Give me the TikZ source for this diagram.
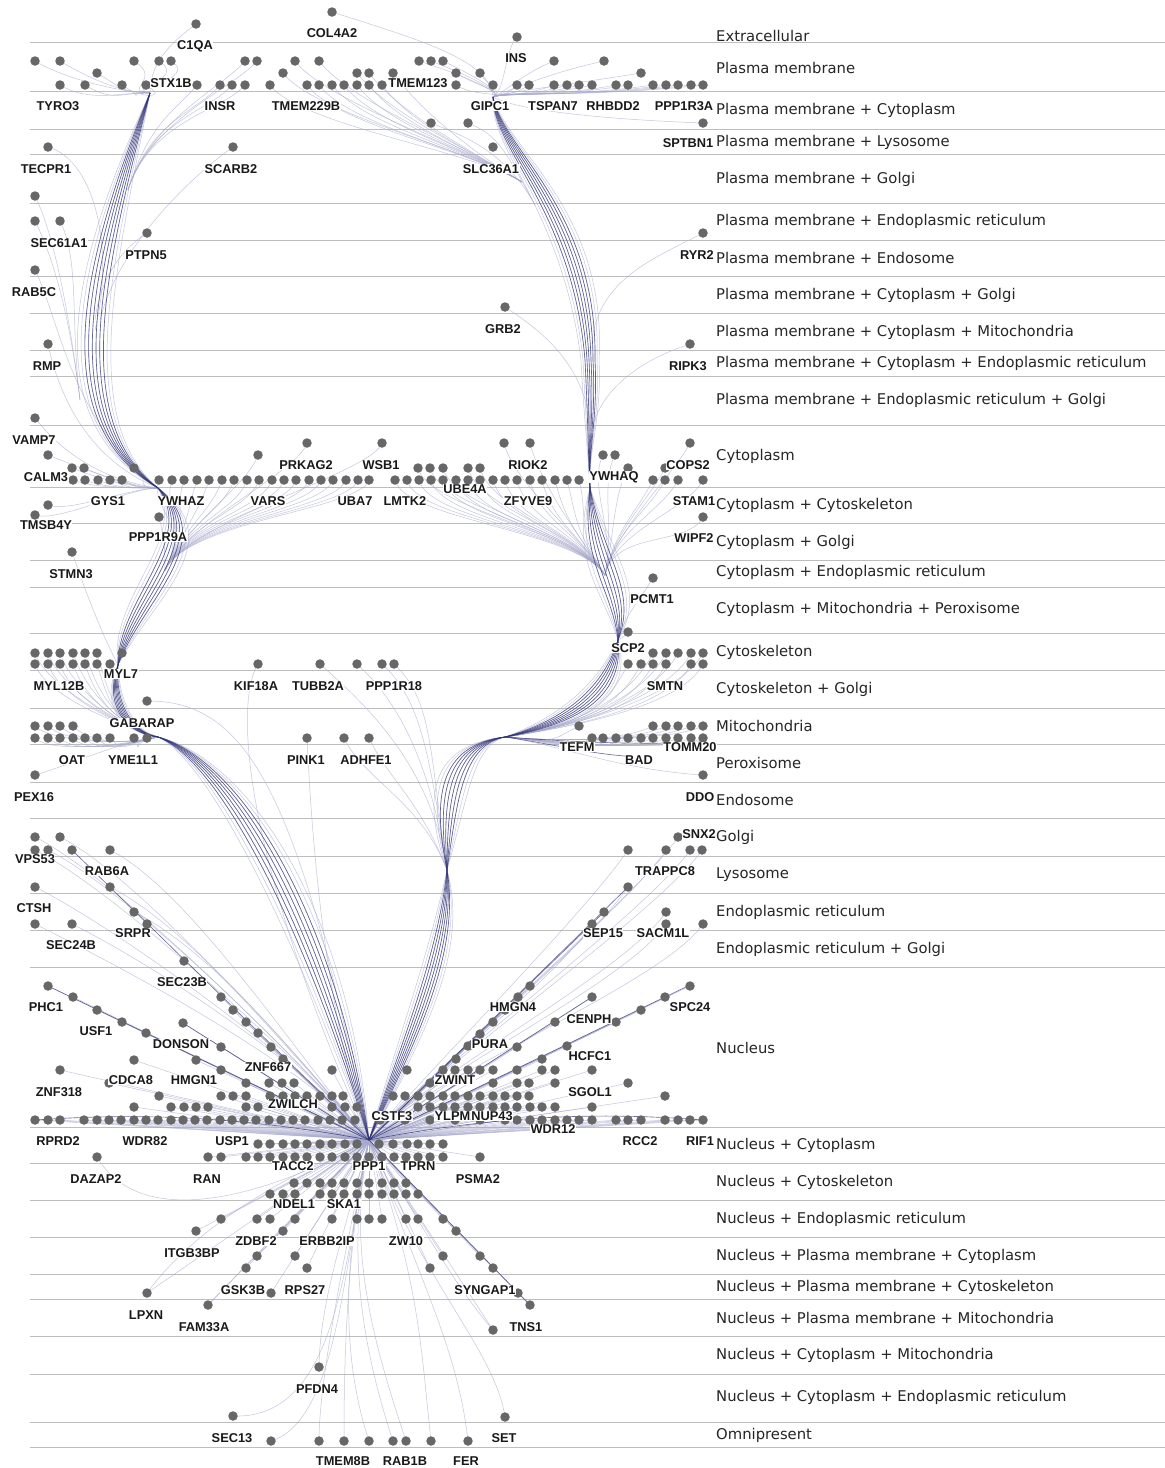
\documentclass[tikz,border=0pt]{standalone}
\usepackage{fontspec}
\setmainfont{DejaVu Sans}
\newfontfamily\genefont{Liberation Sans}
\definecolor{dotc}{HTML}{676767}
\definecolor{gridc}{HTML}{BDBDBD}
\definecolor{dkc}{HTML}{2F3272}
\definecolor{ltc}{HTML}{A6A8CC}
\tikzset{
 dot/.style={circle,fill=dotc,draw=none,minimum size=9.5pt,inner sep=0pt},
 gl/.style={font={\genefont\bfseries\fontsize{12.8}{12.8}\selectfont}, fill=white, inner sep=0.5pt, text=black!90},
 cat/.style={font={\fontsize{14.8}{16}\selectfont}, anchor=west, inner sep=0pt, text=black!85},
 gridline/.style={draw=gridc, line width=0.9pt},
 dk/.style={draw=dkc, line width=0.65pt, opacity=0.7},
 lt/.style={draw=ltc, line width=0.5pt, opacity=0.65},
}
\def\toprows{12/{332}, 24/{196}, 37/{517},
61/{35,60,134,159,171,245,257,295,319,419,431,443,554,604},
73/{97,283,357,369,393,456,480,641},
85/{60,85,122,146,197,220,232,245,270,307,319,332,344,357,369,382,456,493,517,529,554,567,579,592,616,628,653,666,678,691,703},
123/{431,468,703}, 147/{48,233,493}, 196/{35}, 221/{35,60}, 233/{147,703}, 270/{35}, 307/{505}, 344/{48,690}, 418/{35},
443/{307,382,504,530,690}, 455/{48,258,603,615},
468/{72,84,134,418,430,443,468,480,628,665},
480/{73,85,98,110,122,159,172,184,197,209,222,234,247,259,272,284,296,309,321,333,346,358,369,395,407,419,431,443,456,468,480,493,505,517,530,542,555,567,579,653,665,678,703},
505/{48}, 515/{35}, 517/{159,703}, 552/{72}, 578/{653}, 632/{628},
653/{35,48,60,73,85,97,122,653,666,678,691,703},
664/{35,48,60,73,85,97,110,258,320,357,382,394,628,641,653,666,691,703},
701/{147},
726/{35,48,60,73,579,653,666,678,691,703},
738/{35,48,60,73,85,97,110,134,147,307,344,369,592,603,616,628,641,653,666,678,691,703},
775/{35,703}, 837/{35,60,678}, 850/{35,48,72,110,628,666,690,702}, 887/{35,110,628},
912/{134,604,666}, 924/{35,72,147,592,666,703}, 961/{184},
1367/{319}, 1416/{233}, 1417/{505}, 1441/{271,319,344,369,393,406,431,468}}
\def\nucrows{986/{48,530,690}, 997/{73,221,518,592,665}, 1010/{97,233,505,641},
1022/{122,246,493,555,616}, 1023/{183}, 1033/{146,258}, 1034/{480}, 1046/{468,567},
1047/{221,271,517}, 1059/{283,456,542}, 1060/{134,196},
1070/{60,221,332,407,443,455,468,480,493,517,542,555,592},
1083/{109,246,269,282,294,430,493,517,529,555,628},
1096/{159,221,233,246,270,283,295,307,320,332,343,393,405,418,430,443,455,468,480,493,505,517,529,665},
1107/{134,171,184,196,208,246,258,332,345,357,418,430,443,455,468,480,493,505,517,530,542,555,592},
1120/{35,48,60,84,97,109,121,134,146,158,171,183,195,207,220,232,244,256,269,281,293,305,318,330,342,355,380,405,430,455,480,505,517,530,542,555,567,579,592,616,628,641,665,678,690,703},
1144/{258,270,283,295,307,320,332,345,357,379,393,407,418,430,443},
1157/{208,221,246,258,270,283,295,307,320,332,345,357,369,382,394,406,418,430,443,480},
1183/{294,307,320,332,344,357,369,382,394,406},
1194/{270,283,295,320,332,344,357,369,382,394,406,418},
1219/{221,257,270,295,332,357,369,382,406,418,443},
1231/{196,283,456}, 1256/{257,295,443,480}, 1268/{246,307,430,493},
1293/{147,271,518}, 1305/{208,530}, 1330/{493}}
\begin{document}
\begin{tikzpicture}[x=1pt,y=-1pt]
\useasboundingbox (0,0) rectangle (1165,1468);
\fill[white] (0,0) rectangle (1165,1468);
% grid lines
\foreach \y in {42,91,129,154,203,240,276,313,350,376,425,487,523,560,587,633,670,708,744,782,818,856,893,930,967,1127,1163,1200,1237,1274,1299,1336,1374,1422,1447}
  \draw[gridline] (30,\y) -- (1165,\y);
% category labels
\foreach \y/\t in {36/Extracellular, 68/Plasma membrane, 110/Plasma membrane + Cytoplasm,
 142/Plasma membrane + Lysosome, 179/Plasma membrane + Golgi, 221/Plasma membrane + Endoplasmic reticulum,
 258/Plasma membrane + Endosome, 295/Plasma membrane + Cytoplasm + Golgi,
 332/Plasma membrane + Cytoplasm + Mitochondria, 363/Plasma membrane + Cytoplasm + Endoplasmic reticulum,
 400/Plasma membrane + Endoplasmic reticulum + Golgi, 456/Cytoplasm, 505/Cytoplasm + Cytoskeleton,
 542/Cytoplasm + Golgi, 572/Cytoplasm + Endoplasmic reticulum, 609/Cytoplasm + Mitochondria + Peroxisome,
 652/Cytoskeleton, 689/Cytoskeleton + Golgi, 726/Mitochondria, 763/Peroxisome, 800/Endosome,
 837/Golgi, 875/Lysosome, 912/Endoplasmic reticulum, 949/Endoplasmic reticulum + Golgi,
 1048/Nucleus, 1145/Nucleus + Cytoplasm, 1182/Nucleus + Cytoskeleton, 1219/Nucleus + Endoplasmic reticulum,
 1256/Nucleus + Plasma membrane + Cytoplasm, 1287/Nucleus + Plasma membrane + Cytoskeleton,
 1318/Nucleus + Plasma membrane + Mitochondria, 1355/Nucleus + Cytoplasm + Mitochondria,
 1397/Nucleus + Cytoplasm + Endoplasmic reticulum, 1435/Omnipresent}
  \node[cat] (cat\y) at (716,\y) {\t};
% hubs
\coordinate (C) at (369,1140);
\coordinate (SX) at (150,93);
\coordinate (GP) at (493,97);
\coordinate (YZ) at (158,488);
\coordinate (MY) at (118,665);
\coordinate (GA) at (158,737);
\coordinate (YQ) at (590,488);
\coordinate (SC) at (618,640);
\coordinate (TX) at (505,737);
\coordinate (LO) at (447,870);
\coordinate (LF) at (165,570);
\coordinate (RF) at (605,575);
% ---------- light feeders ----------
\foreach \x/\y in {35/61,60/61,134/61,159/61,171/61,97/73,60/85,85/85,122/85,146/85}
  \draw[lt] (\x,\y) .. controls ({\x+30},{\y+18}) and (120,92) .. (SX);
\draw[lt] (196,24) .. controls (175,40) and (150,60) .. (SX);
\foreach \x/\y in {197/85,220/85,232/85,245/85,245/61,257/61}
  \draw[lt] (\x,\y) .. controls ({\x-20},{\y+25}) and (150,120) .. (128,190);
\foreach \x/\y in {270/85,307/85,319/85,332/85,344/85,357/85,369/85,382/85,283/73,357/73,369/73,393/73,295/61,319/61}
  \draw[lt] (\x,\y) .. controls ({\x+30},{\y+40}) and (470,150) .. (522,182);
\foreach \x/\y in {419/61,431/61,443/61,456/73,480/73,456/85,517/85,529/85,554/85,567/85,579/85,592/85,616/85,628/85,653/85,666/85,678/85,691/85,703/85,554/61,604/61,641/73,517/37}
  \draw[lt] (\x,\y) .. controls ({\x-(\x-493)*0.5},{\y+12}) and (505,92) .. (GP);
\draw[lt] (332,12) .. controls (420,40) and (490,60) .. (GP);
\foreach \x in {431,468}
  \draw[lt] (\x,123) .. controls ({\x+30},135) and (505,150) .. (535,205);
\draw[lt] (703,123) .. controls (620,120) and (520,112) .. (GP);
\draw[lt] (48,147) .. controls (95,160) and (115,250) .. (95,330);
\draw[lt] (233,147) .. controls (200,170) and (120,240) .. (100,320);
\foreach \x/\y in {35/196,35/221,60/221}
  \draw[lt] (\x,\y) .. controls ({\x+20},{\y+40}) and (70,320) .. (80,400);
\draw[lt] (147,233) .. controls (120,250) and (100,280) .. (95,320);
\draw[lt] (35,270) .. controls (60,320) and (70,420) .. (YZ);
\draw[lt] (48,344) .. controls (60,400) and (90,460) .. (YZ);
\draw[lt] (35,418) .. controls (60,450) and (100,480) .. (YZ);
\foreach \x/\y in {48/455,72/468,84/468,134/468,73/480,85/480,98/480,110/480,122/480,35/515,48/505}
  \draw[lt] (\x,\y) .. controls ({\x+20},{\y+8}) and (130,488) .. (YZ);
\draw[lt] (159,517) .. controls (165,540) and (165,555) .. (LF);
\foreach \x/\y in {159/480,172/480,184/480,197/480,209/480,222/480,234/480,247/480,259/480,272/480,284/480,296/480,309/480,321/480,333/480,346/480,358/480,369/480,258/455,307/443,382/443}
  \draw[lt] (\x,\y) .. controls ({\x-10},{\y+30}) and (190,520) .. (LF);
\foreach \x/\y in {395/480,407/480,419/480,431/480,443/480,456/480,468/480,480/480,493/480,505/480,517/480,530/480,542/480,555/480,567/480,579/480,418/468,430/468,443/468,468/468,480/468,504/443,530/443}
  \draw[lt] (\x,\y) .. controls ({\x+10},{\y+40}) and (575,530) .. (RF);
\foreach \x/\y in {603/455,615/455,628/468,665/468,653/480,665/480,678/480,703/480,690/443,703/517}
  \draw[lt] (\x,\y) .. controls ({\x-15},{\y+30}) and (615,530) .. (RF);
\draw[lt] (703,233) .. controls (650,260) and (600,280) .. (592,340);
\draw[lt] (505,307) .. controls (540,330) and (580,360) .. (590,420);
\draw[lt] (690,344) .. controls (640,360) and (600,390) .. (592,430);
\draw[lt] (653,578) .. controls (640,600) and (625,615) .. (SC);
\draw[lt] (628,632) .. controls (625,636) .. (SC);
\foreach \x/\y in {628/664,641/664,653/664,666/664,691/664,703/664,653/653,666/653,678/653,691/653,703/653}
  \draw[lt] (\x,\y) .. controls ({\x-20},{\y+40}) and (585,725) .. (TX);
\foreach \x/\y in {579/726,653/726,666/726,678/726,691/726,703/726,592/738,603/738,616/738,628/738,641/738,653/738,666/738,678/738,691/738,703/738}
  \draw[lt] (\x,\y) .. controls ({\x-30},{\y+15}) and (560,742) .. (TX);
\draw[lt] (703,775) .. controls (620,770) and (560,745) .. (TX);
\foreach \x/\y in {35/653,48/653,60/653,73/653,85/653,97/653,35/664,48/664,60/664,73/664,85/664,97/664}
  \draw[lt] (\x,\y) .. controls ({\x+10},{\y+30}) and (110,722) .. (GA);
\draw[lt] (122,653) .. controls (120,658) .. (MY);
\draw[lt] (72,552) .. controls (85,590) and (100,630) .. (MY);
\foreach \x/\y in {35/726,48/726,60/726,73/726,35/738,48/738,60/738,73/738,85/738,97/738,110/738,134/738}
  \draw[lt] (\x,\y) .. controls ({\x+15},{\y+15}) and (120,746) .. (GA);
\draw[lt] (35,775) .. controls (70,765) and (110,745) .. (GA);
\draw[lt] (147,701) .. controls (250,700) and (300,800) .. (C);
\draw[lt] (258,664) .. controls (235,700) and (240,850) .. (C);
\foreach \x in {320,357,382,394}
  \draw[lt] (\x,664) .. controls ({\x+40},700) and (430,760) .. (LO);
\draw[lt] (307,738) .. controls (310,800) and (320,1000) .. (C);
\foreach \x in {344,369}
  \draw[lt] (\x,738) .. controls ({\x+20},780) and (420,800) .. (LO);
% golgi / ER feeders
\foreach \x/\y in {35/837,60/837,35/850,48/850,110/850,35/887,110/887,35/924,72/924,134/912}
  \draw[lt] (\x,\y) .. controls ({\x+80},{\y+40}) and (300,1060) .. (C);
\foreach \x/\y in {678/837,628/850,666/850,690/850,702/850,628/887,666/912,592/924,666/924,703/924}
  \draw[lt] (\x,\y) .. controls ({\x-40},{\y+60}) and (420,1080) .. (C);
% nucleus rays
\foreach \y/\xs in \nucrows { \foreach \x in \xs { \draw[lt] (C) -- (\x,\y); } }
% bottom curves
\draw[lt] (C) .. controls (345,1230) and (320,1300) .. (319,1367);
\foreach \x/\y in {233/1416,271/1441}
  \draw[lt] (\x,\y) .. controls (340,1420) and (345,1250) .. (C);
\foreach \x in {319,344}
  \draw[lt] (\x,1441) .. controls (\x,1380) and (345,1250) .. (C);
\foreach \x in {369,393,406}
  \draw[lt] (\x,1441) .. controls ({\x-30},1350) and (345,1250) .. (C);
\foreach \x/\y in {431/1441,468/1441,505/1417}
  \draw[lt] (\x,\y) .. controls ({\x-10},1350) and (420,1280) .. (C);
\draw[lt] (493,1330) .. controls (450,1280) and (420,1220) .. (C);
\draw[lt] (147,1293) .. controls (200,1220) and (300,1170) .. (C);
\draw[lt] (208,1305) .. controls (260,1250) and (330,1180) .. (C);
\draw[lt] (97,1157) .. controls (140,1230) and (260,1200) .. (C);
% ---------- bundles ----------
\foreach \o in {-9,-7,...,9} {
 \draw[lt] (SX) .. controls ({95+\o*2.5},260) and ({55+\o*2.5},420) .. (YZ) .. controls ({210+\o*2.5},540) and ({130+\o*2.5},600) .. (MY) .. controls ({110+\o},700) and ({125+\o},732) .. (GA) .. controls ({230+\o*2.5},760) and ({320+\o*3.5},920) .. (C);
 \draw[lt] (GP) .. controls ({498+\o},150) and ({585+\o*2.5},210) .. ({590+\o},360) .. controls ({593+\o},420) and (588,450) .. (YQ) .. controls ({592+\o*2.5},560) and ({625+\o*2.5},590) .. (SC) .. controls ({612+\o*2.5},700) and ({560+\o*2.5},725) .. (TX) .. controls ({450+\o*2.5},745) and ({445+\o*2.5},800) .. (LO) .. controls ({450+\o*2.5},960) and ({400+\o},1060) .. (C);
}
\foreach \o in {-5,-3,...,5} {
 \draw[dk] (SX) .. controls ({95+\o*2.5},260) and ({55+\o*2.5},420) .. (YZ) .. controls ({210+\o*2.5},540) and ({130+\o*2.5},600) .. (MY) .. controls ({110+\o},700) and ({125+\o},732) .. (GA) .. controls ({230+\o*2.5},760) and ({320+\o*3.5},920) .. (C);
 \draw[dk] (GP) .. controls ({498+\o},150) and ({585+\o*2.5},210) .. ({590+\o},360) .. controls ({593+\o},420) and (588,450) .. (YQ) .. controls ({592+\o*2.5},560) and ({625+\o*2.5},590) .. (SC) .. controls ({612+\o*2.5},700) and ({560+\o*2.5},725) .. (TX) .. controls ({450+\o*2.5},745) and ({445+\o*2.5},800) .. (LO) .. controls ({450+\o*2.5},960) and ({400+\o},1060) .. (C);
}
% dark spokes
\foreach \x/\y in {48/986,183/1023,72/850,604/912,628/887,690/985,592/997,530/1305}
  \draw[dk] (C) -- (\x,\y);
\draw[dk] (C) .. controls (250,1118) and (150,1112) .. (35,1120);
\draw[dk] (C) .. controls (500,1115) and (600,1112) .. (703,1120);
\draw[dk] (TX) .. controls (560,745) and (600,757) .. (650,757);
\draw[dk] (TX) .. controls (570,742) and (640,745) .. (700,742);
% ---------- dots ----------
\foreach \y/\xs in \toprows { \foreach \x in \xs { \node[dot] (d\x-\y) at (\x,\y) {}; } }
\foreach \y/\xs in \nucrows { \foreach \x in \xs { \node[dot] (n\x-\y) at (\x,\y) {}; } }
\node[dot] (n97-1157) at (97,1157) {};
% ---------- gene labels ----------
\foreach \x/\y/\t in {195/46/C1QA, 332/33/COL4A2, 516/58/INS, 171/83/STX1B, 418/83/TMEM123,
 58/106/TYRO3, 220/106/INSR, 306/106/TMEM229B, 490/106/GIPC1, 553/106/TSPAN7, 613/106/RHBDD2, 684/106/PPP1R3A,
 688/143/SPTBN1, 46/169/TECPR1, 231/169/SCARB2, 491/169/SLC36A1, 59/243/SEC61A1, 146/255/PTPN5, 697/255/RYR2,
 34/292/RAB5C, 503/329/GRB2, 47/366/RMP, 688/366/RIPK3, 34/440/VAMP7,
 306/465/PRKAG2, 381/465/WSB1, 528/465/RIOK2, 688/465/COPS2, 46/477/CALM3, 614/477/YWHAQ, 465/489/UBE4A,
 108/501/GYS1, 181/501/YWHAZ, 268/501/VARS, 355/501/UBA7, 405/501/LMTK2, 528/501/ZFYVE9, 694/501/STAM1,
 46/525/TMSB4Y, 158/537/PPP1R9A, 694/538/WIPF2, 71/574/STMN3, 652/599/PCMT1, 628/648/SCP2,
 121/674/MYL7, 59/686/MYL12B, 256/686/KIF18A, 318/686/TUBB2A, 394/686/PPP1R18, 665/686/SMTN,
 142/723/GABARAP, 577/747/TEFM, 690/747/TOMM20, 72/760/OAT, 133/760/YME1L1, 306/760/PINK1, 366/760/ADHFE1,
 639/760/BAD, 34/797/PEX16, 700/797/DDO, 699/834/SNX2, 35/859/VPS53, 107/871/RAB6A, 665/871/TRAPPC8,
 34/908/CTSH, 133/933/SRPR, 603/933/SEP15, 663/933/SACM1L, 71/945/SEC24B, 182/982/SEC23B,
 46/1007/PHC1, 513/1007/HMGN4, 690/1007/SPC24, 589/1019/CENPH, 96/1031/USF1, 181/1044/DONSON, 490/1044/PURA,
 590/1056/HCFC1, 268/1067/ZNF667, 131/1080/CDCA8, 194/1080/HMGN1, 455/1080/ZWINT, 59/1092/ZNF318,
 590/1092/SGOL1, 293/1104/ZWILCH, 392/1116/CSTF3, 456/1116/YLPM1, 492/1116/NUP43, 553/1129/WDR12,
 58/1141/RPRD2, 145/1141/WDR82, 232/1141/USP1, 640/1141/RCC2, 700/1141/RIF1,
 293/1166/TACC2, 369/1166/PPP1, 418/1166/TPRN, 96/1179/DAZAP2, 207/1179/RAN, 478/1179/PSMA2,
 294/1204/NDEL1, 344/1204/SKA1, 256/1241/ZDBF2, 327/1241/ERBB2IP, 406/1241/ZW10, 192/1253/ITGB3BP,
 243/1290/GSK3B, 305/1290/RPS27, 485/1290/SYNGAP1, 146/1315/LPXN, 526/1327/TNS1, 204/1327/FAM33A,
 317/1389/PFDN4, 232/1438/SEC13, 504/1438/SET, 343/1461/TMEM8B, 405/1461/RAB1B, 466/1461/FER}
  \node[gl] (g\t) at (\x,\y) {\t};
\end{tikzpicture}
\end{document}
